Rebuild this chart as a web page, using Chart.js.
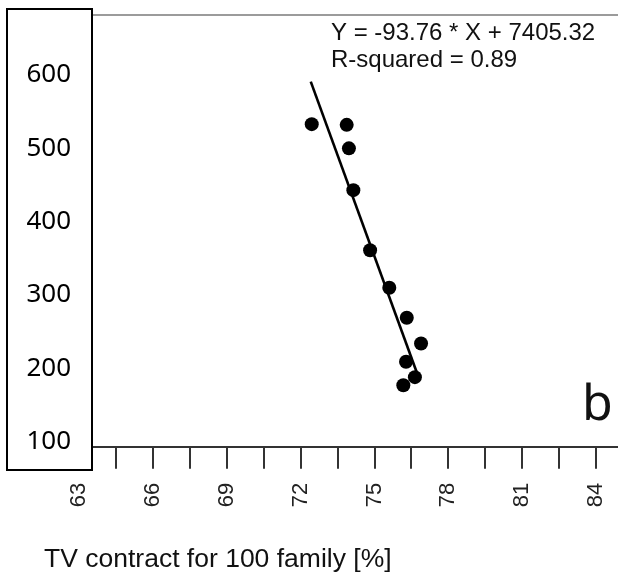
<!DOCTYPE html>
<html><head><meta charset="utf-8">
<script src="https://cdn.jsdelivr.net/npm/chart.js@4.4.0/dist/chart.umd.min.js"></script>
<style>html,body{margin:0;padding:0;background:#fff;}#wrap{width:618px;height:576px;position:relative;}</style>
</head><body><div id="wrap"><canvas id="c" width="618" height="576"></canvas></div>
<script>
// ---- data ----
const tvContract = [72.45, 73.87, 73.96, 74.14, 74.82, 75.60, 76.31, 76.89, 76.28, 76.64, 76.17];
const outcome    = [533, 532, 500, 443, 361, 310, 269, 234, 209, 188, 177];
const fitX = [72.41, 76.71];
const fitY = [591, 195];
const xTicks = [63, 64.5, 66, 67.5, 69, 70.5, 72, 73.5, 75, 76.5, 78, 79.5, 81, 82.5, 84];
const xLabelTicks = [63, 66, 69, 72, 75, 78, 81, 84];
const yTicks = [100, 200, 300, 400, 500, 600];
const equationText = "Y = -93.76 * X + 7405.32";
const rSquaredText = "R-squared = 0.89";
const panelLabel = "b";
const xTitle = "TV contract for 100 family [%]";

const overlay = {
  id: 'overlay',
  beforeDatasetsDraw(chart) {
    const ctx = chart.ctx, a = chart.chartArea;
    ctx.save();
    // top gray rule
    ctx.strokeStyle = '#7a7a7a';
    ctx.lineWidth = 1.3;
    ctx.beginPath(); ctx.moveTo(93, a.top); ctx.lineTo(chart.width, a.top); ctx.stroke();
    // label box
    ctx.fillStyle = '#fff';
    ctx.fillRect(6, 8, 87, 463);
    ctx.strokeStyle = '#000';
    ctx.lineWidth = 2;
    ctx.strokeRect(7, 9, 85, 461);
    ctx.restore();
  },
  afterDraw(chart) {
    const ctx = chart.ctx;
    ctx.save();
    ctx.fillStyle = '#111';
    ctx.textBaseline = 'alphabetic';
    ctx.textAlign = 'left';
    ctx.font = '24px "Liberation Sans", Arial, sans-serif';
    ctx.fillText(equationText, 331, 40);
    ctx.fillText(rSquaredText, 331, 67);
    ctx.font = '50px "Noto Sans", sans-serif';
    ctx.fillText(panelLabel, 582, 420);
    ctx.font = '26.5px "Liberation Sans", Arial, sans-serif';
    ctx.fillText(xTitle, 44, 567);
    ctx.restore();
  }
};

new Chart(document.getElementById('c'), {
  data: {
    datasets: [
      {
        type: 'scatter',
        data: tvContract.map((x, i) => ({x, y: outcome[i]})),
        backgroundColor: '#000', borderColor: '#000',
        pointRadius: 7, pointHoverRadius: 7, borderWidth: 0
      },
      {
        type: 'line',
        data: fitX.map((x, i) => ({x, y: fitY[i]})),
        borderColor: '#000', borderWidth: 2.6, pointRadius: 0, fill: false
      }
    ]
  },
  options: {
    responsive: false, animation: false, devicePixelRatio: 1,
    layout: {autoPadding: false, padding: {top: 15, left: 0, right: 0, bottom: 0}},
    plugins: {legend: {display: false}, tooltip: {enabled: false}},
    scales: {
      x: {
        type: 'linear', position: 'bottom', min: 63, max: 84.89,
        afterBuildTicks(s) { s.ticks = xTicks.map(v => ({value: v})); },
        afterFit(s) { s.height = 129.3; s.paddingLeft = 0; s.paddingRight = 0; },
        grid: {drawOnChartArea: false, drawTicks: true, tickLength: 22, color: '#333', lineWidth: 2},
        border: {display: true, color: '#333', width: 2},
        ticks: {
          autoSkip: false, minRotation: 90, maxRotation: 90, padding: 14,
          color: '#222', font: {family: '"Liberation Sans", Arial, sans-serif', size: 22},
          callback: v => xLabelTicks.includes(v) ? String(v) : ''
        }
      },
      y: {
        type: 'linear', position: 'left', min: 93.2, max: 681.8,
        afterBuildTicks(s) { s.ticks = yTicks.map(v => ({value: v})); },
        afterFit(s) { s.width = 79.1; s.paddingTop = 0; s.paddingBottom = 0; },
        grid: {display: false},
        border: {display: false},
        ticks: {
          z: 1, padding: 0, color: '#000',
          font: {family: '"Noto Sans", sans-serif', size: 26}
        }
      }
    }
  },
  plugins: [overlay]
});
</script>
</body></html>
